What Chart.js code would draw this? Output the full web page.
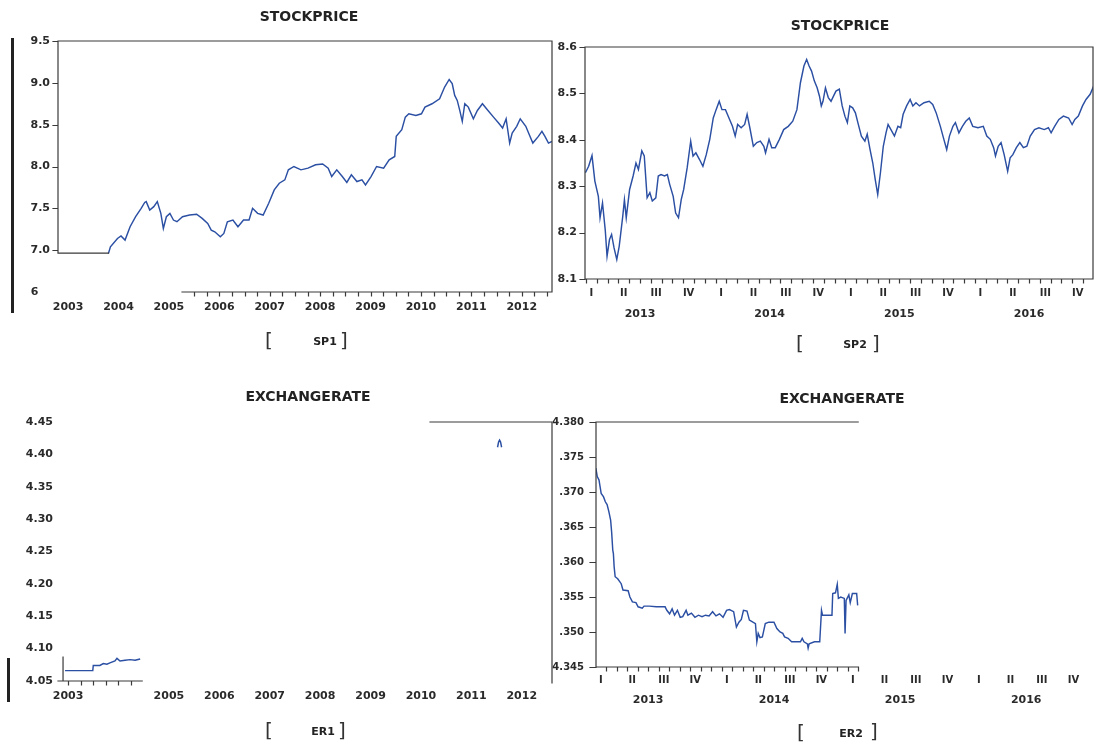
<!DOCTYPE html>
<html><head><meta charset="utf-8">
<script src="https://cdn.jsdelivr.net/npm/chart.js@4.4.0/dist/chart.umd.min.js"></script>
<style>
html,body{margin:0;padding:0;background:#fff;}
#wrap{position:relative;width:1096px;height:743px;overflow:hidden;background:#fff;}
canvas{position:absolute;left:0;top:0;}
.t{position:absolute;font-family:"DejaVu Sans",sans-serif;font-weight:bold;color:#222;white-space:nowrap;transform:translate(-50%,-50%);line-height:1;}
.br{position:absolute;font-family:"DejaVu Sans",sans-serif;font-weight:normal;color:#333;white-space:nowrap;transform:translate(-50%,-50%);line-height:1;font-size:20px;}
.bar{position:absolute;background:#222;}
</style></head><body>
<div id="wrap">
<canvas id="c1" width="1096" height="743"></canvas>
<canvas id="c2" width="1096" height="743"></canvas>
<canvas id="c3" width="1096" height="743"></canvas>
<canvas id="c4" width="1096" height="743"></canvas>

<div class="t" style="left:309px;top:16px;font-size:14px">STOCKPRICE</div>
<div class="t" style="left:840px;top:25px;font-size:14px">STOCKPRICE</div>
<div class="t" style="left:308px;top:396px;font-size:14px">EXCHANGERATE</div>
<div class="t" style="left:842px;top:398px;font-size:14px">EXCHANGERATE</div>

<div class="br" style="left:269px;top:340px">[</div>
<div class="t" style="left:325px;top:341px;font-size:11px">SP1</div>
<div class="br" style="left:344px;top:340px">]</div>

<div class="br" style="left:800px;top:343px">[</div>
<div class="t" style="left:855px;top:344px;font-size:11px">SP2</div>
<div class="br" style="left:876px;top:343px">]</div>

<div class="br" style="left:269px;top:730px">[</div>
<div class="t" style="left:323px;top:731px;font-size:11px">ER1</div>
<div class="br" style="left:342px;top:730px">]</div>

<div class="br" style="left:801px;top:732px">[</div>
<div class="t" style="left:851px;top:733px;font-size:11px">ER2</div>
<div class="br" style="left:874px;top:731px">]</div>

<div class="bar" style="left:11px;top:38px;width:2.5px;height:275px"></div>
<div class="bar" style="left:7px;top:658px;width:2.5px;height:44px"></div>
</div>
<script>
// ---------------- DATA ----------------
// SP1: stock price 2003-2012 (x = fractional year)
const sp1Dates = [2004.30,2004.34,2004.48,2004.55,2004.63,2004.73,2004.84,2004.95,2005.02,2005.05,
2005.12,2005.20,2005.27,2005.34,2005.39,2005.45,2005.52,2005.59,2005.66,2005.77,
2005.91,2006.05,2006.16,2006.27,2006.34,2006.41,2006.52,2006.59,2006.66,2006.77,
2006.87,2006.98,2007.09,2007.16,2007.26,2007.37,2007.48,2007.59,2007.69,2007.80,
2007.87,2007.98,2008.12,2008.26,2008.41,2008.55,2008.66,2008.73,2008.83,2008.94,
2009.03,2009.12,2009.23,2009.33,2009.40,2009.51,2009.62,2009.76,2009.87,2009.98,
2010.01,2010.12,2010.19,2010.26,2010.40,2010.51,2010.58,2010.72,2010.87,2010.97,
2011.06,2011.12,2011.17,2011.22,2011.27,2011.32,2011.37,2011.44,2011.54,2011.62,
2011.72,2011.83,2011.94,2012.04,2012.12,2012.19,2012.26,2012.31,2012.40,2012.47,
2012.58,2012.65,2012.72,2012.83,2012.90,2012.96,2013.03,2013.10];
const sp1Values = [6.96,7.04,7.14,7.17,7.12,7.28,7.40,7.50,7.57,7.58,
7.48,7.52,7.58,7.44,7.26,7.40,7.44,7.36,7.34,7.40,
7.42,7.43,7.38,7.32,7.24,7.22,7.16,7.20,7.34,7.36,
7.28,7.36,7.36,7.50,7.44,7.42,7.56,7.72,7.80,7.84,
7.96,8.00,7.96,7.98,8.02,8.03,7.98,7.88,7.96,7.88,
7.81,7.90,7.82,7.84,7.78,7.88,8.00,7.98,8.08,8.12,
8.36,8.44,8.59,8.63,8.61,8.63,8.71,8.75,8.81,8.95,
9.04,8.99,8.85,8.79,8.67,8.54,8.75,8.71,8.57,8.67,
8.75,8.67,8.59,8.52,8.46,8.57,8.28,8.40,8.48,8.57,
8.48,8.38,8.28,8.36,8.42,8.36,8.28,8.30];
const sp1YearLabels = ['2003','2004','2005','2006','2007','2008','2009','2010','2011','2012'];
const sp1YTicks = [6.5,7.0,7.5,8.0,8.5,9.0,9.5];
const sp1YLabels = ['6   ','7.0','7.5','8.0','8.5','9.0','9.5'];

// SP2: stock price 2013-2016
const sp2Dates = [2013.079,2013.104,2013.130,2013.152,2013.179,2013.192,2013.211,2013.232,2013.246,2013.265,
2013.281,2013.300,2013.321,2013.340,2013.367,2013.380,2013.394,2013.420,2013.447,2013.469,
2013.488,2013.514,2013.533,2013.555,2013.576,2013.595,2013.622,2013.641,2013.662,2013.689,
2013.711,2013.729,2013.756,2013.775,2013.797,2013.818,2013.837,2013.864,2013.891,2013.909,
2013.931,2013.958,2013.985,2014.011,2014.038,2014.065,2014.087,2014.111,2014.132,2014.159,
2014.186,2014.213,2014.234,2014.253,2014.280,2014.307,2014.326,2014.347,2014.374,2014.401,
2014.428,2014.455,2014.468,2014.495,2014.516,2014.543,2014.575,2014.608,2014.643,2014.678,
2014.710,2014.737,2014.764,2014.785,2014.804,2014.823,2014.844,2014.866,2014.884,2014.898,
2014.911,2014.930,2014.952,2014.973,2014.992,2015.011,2015.037,2015.059,2015.080,2015.099,
2015.118,2015.140,2015.161,2015.180,2015.207,2015.234,2015.252,2015.274,2015.295,2015.314,
2015.333,2015.354,2015.376,2015.397,2015.413,2015.435,2015.462,2015.489,2015.510,2015.529,
2015.556,2015.583,2015.604,2015.628,2015.655,2015.690,2015.730,2015.757,2015.784,2015.816,
2015.843,2015.865,2015.886,2015.913,2015.932,2015.959,2015.986,2016.012,2016.039,2016.066,
2016.106,2016.147,2016.174,2016.201,2016.227,2016.241,2016.262,2016.284,2016.308,2016.335,
2016.354,2016.375,2016.402,2016.429,2016.456,2016.483,2016.509,2016.542,2016.576,2016.617,
2016.649,2016.670,2016.697,2016.730,2016.765,2016.805,2016.832,2016.853,2016.880,2016.912,
2016.939,2016.971,2016.998];
const sp2Values = [8.329,8.343,8.366,8.311,8.278,8.232,8.264,8.206,8.149,8.185,
8.196,8.167,8.142,8.171,8.235,8.271,8.232,8.293,8.322,8.350,
8.336,8.376,8.365,8.275,8.286,8.268,8.275,8.322,8.325,8.322,
8.325,8.304,8.278,8.242,8.232,8.271,8.293,8.340,8.397,8.365,
8.372,8.358,8.343,8.368,8.401,8.447,8.465,8.483,8.465,8.465,
8.447,8.429,8.408,8.433,8.426,8.433,8.455,8.426,8.386,8.394,
8.397,8.386,8.372,8.401,8.383,8.383,8.401,8.422,8.429,8.440,
8.465,8.523,8.559,8.573,8.559,8.548,8.527,8.512,8.494,8.473,
8.483,8.512,8.491,8.483,8.494,8.505,8.509,8.473,8.451,8.437,
8.473,8.469,8.458,8.437,8.408,8.397,8.412,8.379,8.350,8.314,
8.282,8.329,8.386,8.415,8.433,8.422,8.408,8.429,8.426,8.455,
8.473,8.487,8.473,8.480,8.473,8.480,8.483,8.476,8.458,8.429,
8.401,8.379,8.408,8.429,8.437,8.415,8.429,8.440,8.447,8.429,
8.426,8.429,8.408,8.401,8.383,8.365,8.386,8.394,8.368,8.332,
8.361,8.368,8.383,8.394,8.383,8.386,8.408,8.422,8.426,8.422,
8.426,8.415,8.429,8.444,8.451,8.447,8.433,8.444,8.451,8.473,
8.487,8.498,8.516];
const sp2YTicks = [8.1,8.2,8.3,8.4,8.5,8.6];
const sp2YLabels = ['8.1','8.2','8.3','8.4','8.5','8.6'];
const quarterLabels = ['I','II','III','IV'];
const sp2YearLabels = ['2013','2014','2015','2016'];

// ER1: exchange rate 2003-2004 visible part + fragment near 2012
const er1Dates = [2003.44,2003.99,2004.00,2004.13,2004.20,2004.27,2004.33,2004.43,2004.47,2004.53,2004.63,2004.73,2004.83,2004.93];
const er1Values = [4.066,4.066,4.074,4.074,4.077,4.076,4.078,4.081,4.085,4.081,4.082,4.083,4.082,4.084];
const er1FragDates = [2012.02,2012.04,2012.06,2012.08,2012.10];
const er1FragValues = [4.411,4.419,4.422,4.419,4.411];
const er1YearLabels = ['2003','2005','2006','2007','2008','2009','2010','2011','2012'];
const er1YTicks = [4.05,4.10,4.15,4.20,4.25,4.30,4.35,4.40,4.45];
const er1YLabels = ['4.05','4.10','4.15','4.20','4.25','4.30','4.35','4.40','4.45'];

// ER2: exchange rate 2013-2015
const er2Dates = [2013.086,2013.097,2013.111,2013.119,2013.128,2013.147,2013.161,2013.175,2013.189,2013.203,
2013.211,2013.220,2013.225,2013.231,2013.239,2013.259,2013.287,2013.301,2013.342,2013.356,
2013.376,2013.404,2013.421,2013.454,2013.468,2013.510,2013.565,2013.635,2013.649,2013.671,
2013.691,2013.710,2013.733,2013.755,2013.775,2013.802,2013.816,2013.844,2013.872,2013.900,
2013.928,2013.956,2013.984,2014.012,2014.039,2014.067,2014.095,2014.123,2014.145,2014.179,
2014.201,2014.221,2014.240,2014.257,2014.285,2014.304,2014.332,2014.352,2014.363,2014.374,
2014.388,2014.407,2014.430,2014.458,2014.499,2014.522,2014.547,2014.569,2014.583,2014.611,
2014.639,2014.709,2014.723,2014.737,2014.764,2014.770,2014.778,2014.820,2014.862,2014.876,
2014.884,2014.959,2014.965,2014.987,2015.001,2015.010,2015.029,2015.057,2015.063,2015.071,
2015.093,2015.104,2015.121,2015.155,2015.163];
const er2Values = [4.3734,4.3722,4.3717,4.3708,4.3698,4.3693,4.3686,4.3682,4.3672,4.3660,
4.3643,4.3617,4.3612,4.3593,4.3579,4.3576,4.3569,4.3560,4.3559,4.3550,
4.3543,4.3542,4.3536,4.3534,4.3537,4.3537,4.3536,4.3536,4.3531,4.3526,
4.3533,4.3524,4.3531,4.3521,4.3522,4.3531,4.3524,4.3527,4.3521,4.3524,
4.3522,4.3524,4.3523,4.3529,4.3523,4.3526,4.3521,4.3531,4.3532,4.3529,
4.3507,4.3514,4.3518,4.3531,4.3530,4.3517,4.3514,4.3512,4.3486,4.3498,
4.3492,4.3493,4.3512,4.3514,4.3514,4.3505,4.3500,4.3498,4.3493,4.3491,
4.3486,4.3486,4.3491,4.3486,4.3483,4.3477,4.3483,4.3486,4.3486,4.3531,
4.3524,4.3524,4.3555,4.3556,4.3568,4.3548,4.3550,4.3548,4.3498,4.3545,
4.3553,4.3542,4.3555,4.3555,4.3538];
const er2YTicks = [4.345,4.350,4.355,4.360,4.365,4.370,4.375,4.380];
const er2YLabels = ['4.345','.350','.355','.360','.365','.370','.375','4.380'];
const er2YearLabels = ['2013','2014','2015','2016'];

// ---------------- RENDERING ----------------
const W = 1096, H = 743;
const FONT = '"DejaVu Sans", "Liberation Sans", sans-serif';
const LINE = '#2b4fa3';
const FRAME = '#3a3a3a';
const TXT = '#2a2a2a';

function quarterTicks(years){ const v=[],l=[]; years.forEach(y=>quarterLabels.forEach((q,i)=>{v.push(+y+i*0.25+0.125);l.push(q);})); return {v,l}; }

function yScale(p){
  return {
    type:'linear', position:'left', min:p.yMin, max:p.yMax, bounds:'data',
    grid:{display:false, drawTicks:false}, border:{display:false},
    afterBuildTicks:s=>{ s.ticks = p.yTicks.map(v=>({value:v})); },
    afterFit:s=>{ s.width = p.yW; },
    ticks:{autoSkip:false, padding:p.yPad, color:TXT, font:{family:FONT,size:p.yFont,weight:'bold'}, callback:(v,i)=>p.yLabels[i]}
  };
}
function xScale(p, ax, w){
  return {
    type:'linear', position:'bottom', axis:'x', min:p.xMin, max:p.xMax, bounds:'data', weight:w,
    grid:{display:false, drawTicks:false}, border:{display:false},
    afterBuildTicks:s=>{ s.ticks = ax.values.map(v=>({value:v})); },
    afterFit:s=>{ s.height = ax.h; },
    ticks:{autoSkip:false, maxRotation:0, minRotation:0, padding:ax.pad, color:TXT, font:{family:FONT,size:ax.font,weight:'bold'}, callback:(v,i)=>ax.labels[i]}
  };
}
function makeFrame(f){
  return {id:'frame', afterDatasetsDraw(chart){
    const ctx=chart.ctx, sx=chart.scales.x, sy=chart.scales.y;
    const X=v=>sx.getPixelForValue(v), Y=v=>sy.getPixelForValue(v);
    ctx.save(); ctx.strokeStyle=FRAME; ctx.lineWidth=1.2; ctx.lineCap='square';
    ctx.beginPath();
    f.segs.forEach(s=>{ctx.moveTo(X(s[0]),Y(s[1]));ctx.lineTo(X(s[2]),Y(s[3]));});
    (f.xTicks||[]).forEach(t=>{ const y0=Y(t.at); for(let k=0;t.from+k*t.step<=t.to+1e-9;k++){ const x=Math.round(X(t.from+k*t.step))+0.5; ctx.moveTo(x,y0); ctx.lineTo(x,y0+t.len);} });
    (f.yTicks||[]).forEach(t=>{ const x0=X(t.at); t.values.forEach(v=>{ const y=Math.round(Y(v))+0.5; ctx.moveTo(x0,y); ctx.lineTo(x0-t.len,y);}); });
    ctx.stroke(); ctx.restore();
  }};
}
function panel(id, p){
  const scales = {y:yScale(p)};
  p.xAxes.forEach((ax,i)=>{ scales[i===0?'x':'x'+(i+1)] = xScale(p, ax, i); });
  const xH = p.xAxes.reduce((s,a)=>s+a.h,0);
  new Chart(document.getElementById(id), {
    type:'line',
    data:{datasets:p.series.map(s=>({data:s.x.map((x,i)=>({x:x,y:s.y[i]})), borderColor:LINE, borderWidth:1.45, pointRadius:0, tension:0, fill:false}))},
    options:{responsive:false, animation:false, events:[],
      layout:{padding:{left:p.area.l-p.yW, right:W-p.area.r, top:p.area.t, bottom:H-p.area.b-xH}},
      plugins:{legend:{display:false}, tooltip:{enabled:false}, title:{display:false}},
      scales:scales},
    plugins:[makeFrame(p.frame)]
  });
}

// SP1
(function(){
  const xMin=2003.30, xMax=2013.10;
  panel('c1',{area:{l:58,t:41,r:552,b:292}, xMin, xMax, yMin:6.5, yMax:9.5,
    yTicks:sp1YTicks, yLabels:sp1YLabels, yW:58, yPad:8, yFont:11,
    xAxes:[{values:sp1YearLabels.map(l=>+l+0.5), labels:sp1YearLabels, h:30, pad:9, font:11}],
    series:[{x:sp1Dates,y:sp1Values}],
    frame:{segs:[[xMin,9.5,xMax,9.5],[xMax,9.5,xMax,6.5],[xMin,9.5,xMin,6.965],[xMin,6.965,2004.30,6.965],[2005.76,6.5,xMax,6.5]],
      xTicks:[{from:2006,to:2013,step:0.25,at:6.5,len:4}],
      yTicks:[{values:sp1YTicks.slice(1),at:xMin,len:5}]}
  });
})();
// SP2
(function(){
  const xMin=2013.076, xMax=2016.993; const q=quarterTicks(sp2YearLabels);
  panel('c2',{area:{l:585,t:47,r:1093,b:279}, xMin, xMax, yMin:8.1, yMax:8.6,
    yTicks:sp2YTicks, yLabels:sp2YLabels, yW:50, yPad:8, yFont:11,
    xAxes:[{values:q.v, labels:q.l, h:22, pad:8, font:10},{values:sp2YearLabels.map(l=>+l+0.5), labels:sp2YearLabels, h:30, pad:7, font:11}],
    series:[{x:sp2Dates,y:sp2Values}],
    frame:{segs:[[xMin,8.6,xMax,8.6],[xMax,8.6,xMax,8.1],[xMin,8.6,xMin,8.1],[xMin,8.1,xMax,8.1]],
      xTicks:[{from:2013+1/12,to:2016+11/12,step:1/12,at:8.1,len:4}],
      yTicks:[{values:sp2YTicks,at:xMin,len:5}]}
  });
})();
// ER1
(function(){
  const xMin=2003.30, xMax=2013.10;
  panel('c3',{area:{l:58,t:422,r:552,b:681}, xMin, xMax, yMin:4.05, yMax:4.45,
    yTicks:er1YTicks, yLabels:er1YLabels, yW:58, yPad:5, yFont:11,
    xAxes:[{values:er1YearLabels.map(l=>+l+0.5), labels:er1YearLabels, h:30, pad:9, font:11}],
    series:[{x:er1Dates,y:er1Values},{x:er1FragDates,y:er1FragValues}],
    frame:{segs:[[2003.40,4.05,2003.40,4.087],[xMin,4.05,2004.97,4.05],[2010.68,4.45,xMax,4.45],[xMax,4.45,xMax,4.047]],
      xTicks:[{from:2003.5,to:2004.75,step:0.25,at:4.05,len:4}], yTicks:[]}
  });
})();
// ER2
(function(){
  const xMin=2013.087, xMax=2017.03, xEnd=2015.167; const q=quarterTicks(er2YearLabels);
  panel('c4',{area:{l:596,t:422,r:1093,b:667}, xMin, xMax, yMin:4.345, yMax:4.380,
    yTicks:er2YTicks, yLabels:er2YLabels, yW:50, yPad:12, yFont:10,
    xAxes:[{values:q.v, labels:q.l, h:22, pad:7, font:10},{values:er2YearLabels.map(l=>+l+0.5), labels:er2YearLabels, h:30, pad:5, font:11}],
    series:[{x:er2Dates,y:er2Values}],
    frame:{segs:[[xMin,4.345,xMin,4.38],[xMin,4.38,xEnd,4.38],[xMin,4.345,xEnd,4.345]],
      xTicks:[{from:2013+2/12,to:xEnd,step:1/12,at:4.345,len:4}],
      yTicks:[{values:er2YTicks,at:xMin,len:6}]}
  });
})();
</script>
</body></html>
